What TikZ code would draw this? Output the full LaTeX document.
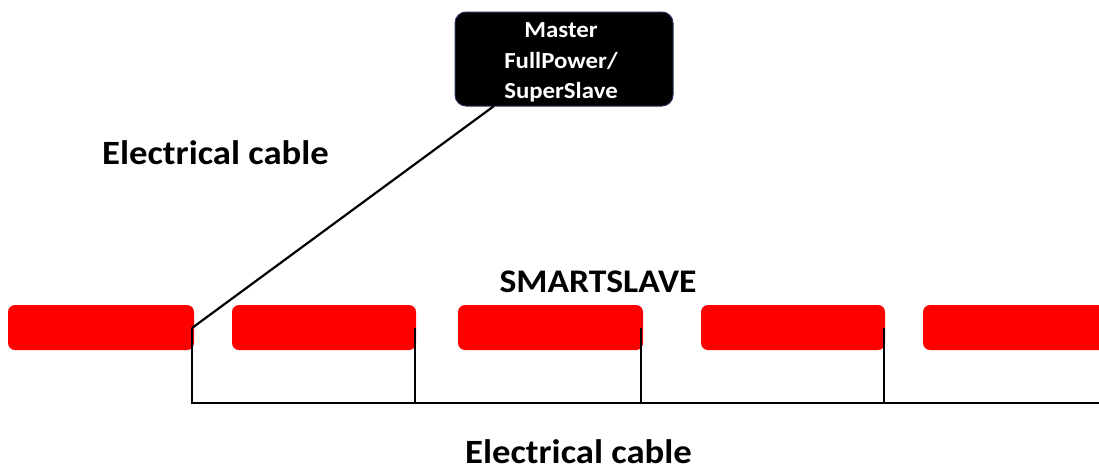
\documentclass[tikz,border=0pt]{standalone}
\usepackage{graphicx}
\usepackage{fontspec}
\setmainfont{Carlito}
\newcommand{\wideT}[1]{\scalebox{1.08}[1]{#1}}
\begin{document}
\begin{tikzpicture}[x=1pt,y=-1pt,
  bar/.style={fill=red, draw=none, rounded corners=7pt},
  wire/.style={line width=2.2pt, black},
  lbl/.style={font=\bfseries\fontsize{34}{40}\selectfont, inner sep=0pt, anchor=base},
  mtxt/.style={font=\bfseries\fontsize{23}{28}\selectfont, inner sep=0pt, anchor=base, text=white},
]
\useasboundingbox (0,0) rectangle (1099,466);
\begin{scope}
\clip (0,0) rectangle (1099,466);
\path[bar] (8,305) rectangle (194,350);
\path[bar] (232,305) rectangle (416,350);
\path[bar] (458,305) rectangle (643,350);
\path[bar] (701,305) rectangle (885,350);
\path[bar] (923,305) rectangle (1120,350);
\end{scope}
\node[draw={rgb,255:red,40;green,50;blue,90}, line width=1pt, fill=black, rounded corners=11pt,
  minimum width=218pt, minimum height=94pt, inner sep=0pt] (master) at (564,59) {};
\node[mtxt] (m1) at (561,37) {\wideT{Master}};
\node[mtxt] (m2) at (561,68) {\wideT{FullPower/}};
\node[mtxt] (m3) at (561,98) {\wideT{SuperSlave}};
\coordinate (tap0) at (192,328);
\coordinate (tap1) at (415,328);
\coordinate (tap2) at (641,328);
\coordinate (tap3) at (884,328);
\coordinate (b0) at (192,403);
\coordinate (b1) at (415,403);
\coordinate (b2) at (641,403);
\coordinate (b3) at (884,403);
\coordinate (bend) at (1099,403);
\coordinate (mfoot) at (494,106);
\draw[wire] (mfoot) -- (tap0);
\draw[wire] (tap0) -- (b0) -- (bend);
\draw[wire] (tap1) -- (b1);
\draw[wire] (tap2) -- (b2);
\draw[wire] (tap3) -- (b3);
\node[lbl, anchor=base west] (ec1) at (102,164) {\wideT{Electrical cable}};
\node[lbl] (ec2) at (578.5,463) {\wideT{Electrical cable}};
\node[lbl, font=\bfseries\fontsize{33}{38}\selectfont] (ss) at (598,292) {\wideT{SMARTSLAVE}};
\end{tikzpicture}
\end{document}
